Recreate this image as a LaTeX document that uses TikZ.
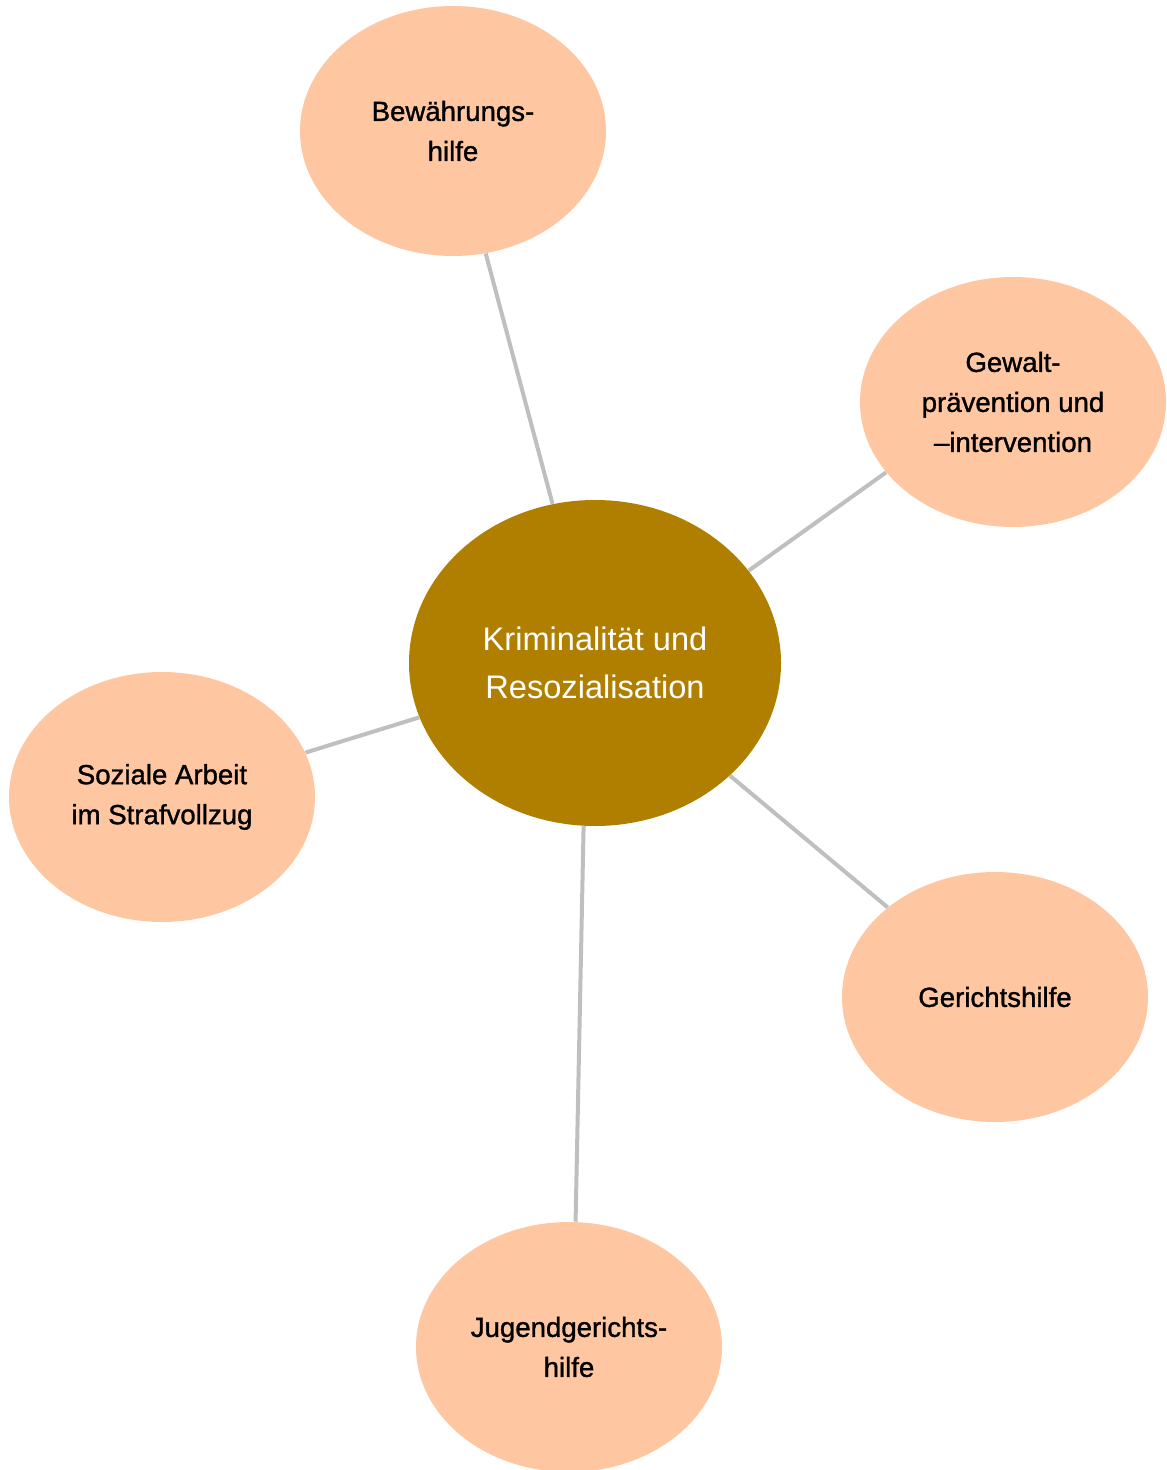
\documentclass[tikz,border=0pt]{standalone}
\usepackage{fontspec}
\setmainfont{Liberation Sans}
\newfontfamily\topicfont{Liberation Sans}[FakeBold=1.2]
\usepackage{xcolor}
\usetikzlibrary{shapes.geometric}
\definecolor{peach}{HTML}{FFC7A1}
\definecolor{gold}{HTML}{B07F00}
\definecolor{linegray}{HTML}{BFBFBF}

\begin{document}
\begin{tikzpicture}
		[x=0.5pt,y=-0.5pt,
		topic/.style={ellipse,fill=peach,minimum width=153pt,minimum height=125pt,inner sep=0pt,align=center,font=\topicfont\fontsize{13.8}{20}\selectfont},
		core/.style={ellipse,fill=gold,minimum width=186pt,minimum height=163pt,inner sep=0pt,align=center,text=white,font=\fontsize{16.3}{24}\selectfont}]
		\useasboundingbox (0,0) rectangle (1166,1470);
		\node[core] (k) at (595,663) {Kriminalität und\\Resozialisation};
		\node[topic] (bew) at (453,131) {Bewährungs-\\hilfe};
		\node[topic] (gew) at (1013,402) {Gewalt-\\prävention und\\–intervention};
		\node[topic] (soz) at (162,797) {Soziale Arbeit\\im Strafvollzug};
		\node[topic] (ger) at (995,997) {Gerichtshilfe};
		\node[topic] (jug) at (569,1347) {Jugendgerichts-\\hilfe};
		\path[draw=linegray,line width=2pt]
		(k) 	edge (bew)
				edge (soz)
				edge (ger)
		(k.31) 	edge (gew.209)
		(k.266) edge (jug.87)
		;
		\end{tikzpicture}
\end{document}
